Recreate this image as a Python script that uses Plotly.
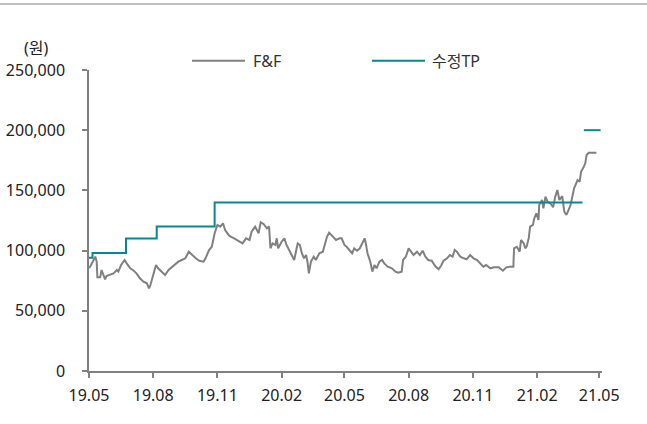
import datetime as dt
import plotly.graph_objects as go

START = dt.date(2019, 5, 1)

# F&F closing price (days since 2019-05-01, KRW)
price_days = [0, 3, 9, 11, 12, 16, 18, 21, 23, 25, 30, 35, 40, 42, 46, 51, 54, 59, 63, 68,
              73, 78, 83, 86, 88, 92, 96, 99, 104, 109, 114, 119, 123, 128, 133, 138, 143, 148, 153, 158,
              164, 167, 172, 176, 180, 184, 188, 192, 195, 200, 203, 208, 212, 216, 220, 225, 230, 233, 238, 243,
              246, 250, 255, 258, 260, 263, 267, 269, 271, 276, 280, 283, 287, 291, 294, 297, 299, 302, 305, 308,
              311, 313, 315, 318, 322, 325, 330, 335, 338, 341, 344, 349, 354, 359, 362, 366, 369, 373, 377, 380,
              384, 388, 392, 395, 397, 399, 403, 406, 409, 412, 416, 420, 423, 428, 434, 439, 443, 448, 450, 454,
              458, 462, 465, 470, 474, 478, 482, 486, 491, 496, 501, 505, 508, 513, 517, 521, 524, 527, 532, 537,
              541, 546, 551, 556, 560, 565, 569, 575, 580, 587, 593, 598, 603, 608, 609, 613, 617, 619, 623, 625,
              627, 630, 632, 636, 638, 641, 644, 645, 649, 651, 654, 657, 661, 665, 668, 671, 674, 678, 681, 684,
              687, 690, 693, 695, 698, 700, 703, 705, 709, 711, 713, 716, 721, 727]
price_vals = [85300, 88000, 95000, 90800, 77800, 77800, 83900, 79700, 76100, 78900, 79700, 81100, 83900, 82500, 88000, 92200, 89400, 85300, 83900, 81100,
              77000, 74200, 72800, 68700, 71400, 79700, 88000, 85300, 82500, 79700, 83900, 86600, 88900, 90800, 92200, 93600, 99100, 96300, 93600, 91600,
              90800, 93600, 100500, 103200, 114400, 121300, 119900, 122700, 117100, 113000, 111500, 110200, 108800, 107400, 106000, 110200, 108800, 115700, 119900, 114400,
              123500, 122100, 118500, 119900, 101900, 106000, 104700, 110200, 101900, 107400, 110200, 104700, 100500, 96300, 92200, 100500, 106000, 104700, 97800, 93600,
              96300, 90800, 81100, 90800, 95000, 92200, 97800, 99100, 106000, 111500, 114900, 111500, 108800, 110200, 110200, 104700, 103300, 100500, 97800, 101900,
              99900, 101900, 107400, 110200, 104700, 97800, 90800, 82500, 88000, 85300, 90800, 92200, 89400, 86600, 85300, 82500, 81600, 82500, 92200, 95000,
              101900, 99100, 96300, 99100, 96300, 99900, 95000, 92200, 91600, 87200, 84500, 88000, 91600, 93600, 96300, 95000, 100500, 99100, 95000, 93600,
              92800, 96300, 93600, 92200, 89400, 86600, 88000, 85300, 86100, 86100, 83300, 86100, 86600, 86600, 101900, 103200, 99100, 108800, 106000, 101900,
              103300, 110200, 119900, 121300, 126800, 131000, 125400, 137900, 142000, 135100, 144800, 140600, 139300, 136000, 144800, 150300, 142000, 145300, 132300, 129600,
              133700, 137900, 146200, 151700, 155900, 158600, 157200, 165500, 169700, 172500, 179400, 181300, 181300, 181300]

# Revised target price (step line)
tp_days = [0, 5, 53, 97, 180, 707, 707, 709, 733]
tp_vals = [94000, 98000, 110000, 120000, 140000, 140000, None, 200000, 200000]

y_ticks = [0, 50000, 100000, 150000, 200000, 250000]

series_names = ["F&F", "수정TP"]

price_x = [START + dt.timedelta(days=d) for d in price_days]
tp_x = [START + dt.timedelta(days=d) for d in tp_days]

FONT = "Noto Sans, Noto Sans CJK KR, sans-serif"
GRAY = "#808080"
TEAL = "#08878f"
TXT = "#222222"

fig = go.Figure()
fig.add_trace(go.Scatter(x=price_x, y=price_vals, mode="lines", name=series_names[0],
                         line=dict(color=GRAY, width=2), showlegend=False))
fig.add_trace(go.Scatter(x=tp_x, y=tp_vals, mode="lines", name=series_names[1],
                         line=dict(color=TEAL, width=2, shape="hv"), connectgaps=False,
                         showlegend=False))

# manual legend (line sample + label)
legend_items = [(series_names[0], GRAY, 0.2008, 0.3041, 0.3158),
                (series_names[1], TEAL, 0.5517, 0.6550, 0.6647)]
shapes = [dict(type="line", xref="paper", yref="paper", x0=-0.2, x1=1.2,
               y0=1.2193, y1=1.2193, line=dict(color="#c0c0c0", width=2))]
annotations = [dict(text="(원)", xref="paper", yref="paper", x=-0.1014, y=1.0731,
                    xanchor="center", yanchor="middle", showarrow=False,
                    font=dict(size=16, color=TXT))]
for name, col, x0, x1, xt in legend_items:
    shapes.append(dict(type="line", xref="paper", yref="paper", x0=x0, x1=x1,
                       y0=1.0309, y1=1.0309, line=dict(color=col, width=2)))
    annotations.append(dict(text=name, xref="paper", yref="paper", x=xt, y=1.0309,
                            xanchor="left", yanchor="middle", showarrow=False,
                            font=dict(size=16, color="#333333")))

fig.update_layout(
    width=647, height=424,
    margin=dict(l=89, r=45, t=70, b=53),
    paper_bgcolor="white", plot_bgcolor="white",
    font=dict(family=FONT, size=16, color=TXT),
    xaxis=dict(type="date", range=[START, START + dt.timedelta(days=735)],
               tick0="2019-05-01", dtick="M3", tickformat="%y.%m",
               showgrid=False, zeroline=False, showline=True, linecolor=GRAY, linewidth=1.5,
               ticks="outside", ticklen=5, tickcolor=GRAY, tickwidth=1.5,
               ticklabelstandoff=4,
               tickfont=dict(size=16, color=TXT), automargin=False),
    yaxis=dict(range=[0, 250000], tickvals=y_ticks, tickformat=",",
               showgrid=False, zeroline=False, showline=True, linecolor=GRAY, linewidth=1.5,
               ticks="outside", ticklen=5, tickcolor=GRAY, tickwidth=1.5,
               ticklabelstandoff=14, automargin=False,
               tickfont=dict(size=16, color=TXT)),
    shapes=shapes,
    annotations=annotations,
)

fig.write_html("out.html", config={"displayModeBar": False},
               post_script="document.body.style.margin='0';")
